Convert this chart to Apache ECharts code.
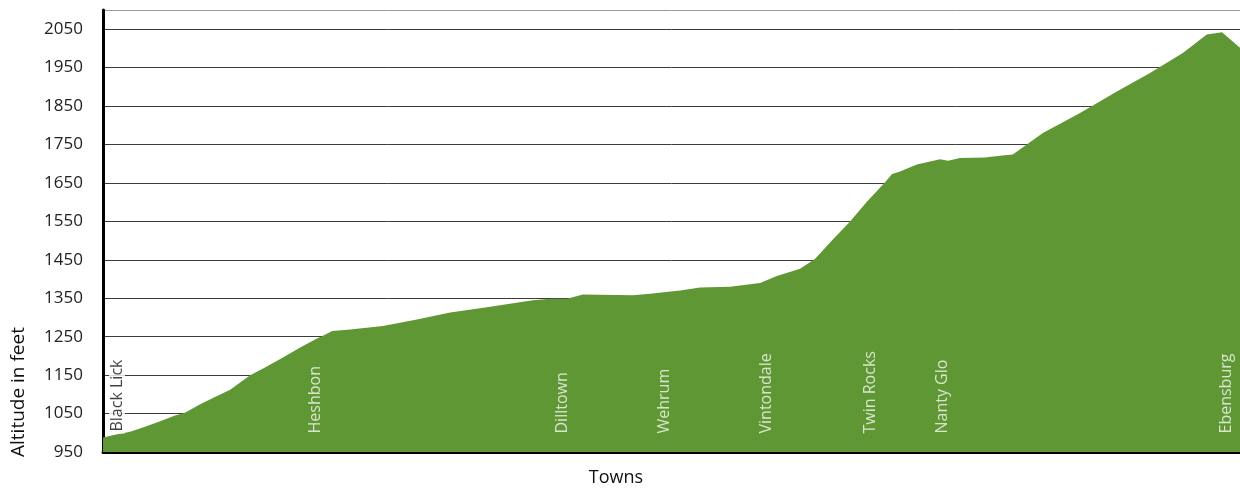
<!DOCTYPE html>
<html>
<head>
<meta charset="utf-8">
<script src="https://cdn.jsdelivr.net/npm/echarts@6/dist/echarts.min.js"></script>
<style>
html,body{margin:0;padding:0;background:#fff;}
#chart{width:1240px;height:490px;}
</style>
</head>
<body>
<div id="chart"></div>
<script>
// Distance along the route (miles, estimated) and altitude (feet)
var distance = [0, 0.3, 0.68, 1.05, 1.43, 1.8, 2.05, 2.43, 2.8, 3.18, 3.68, 4.05, 4.5, 4.93, 5.35, 5.55, 5.73,
  6.18, 7.0, 7.85, 8.68, 9.43, 9.93, 10.75, 11.18, 11.6, 12.0, 13.25, 13.68, 14.43, 14.93, 15.68, 16.43,
  16.85, 17.43, 17.8, 18.25, 18.68, 19.1, 19.55, 19.73, 19.93, 20.35, 20.93, 21.13, 21.43, 22.05, 22.43,
  22.75, 23.5, 24.43, 25.35, 26.18, 27.0, 27.6, 27.98, 28.43];
var altitude = [988, 995, 1003, 1016, 1030, 1045, 1052, 1074, 1093, 1112, 1150, 1170, 1196, 1222, 1245, 1255, 1265,
  1269, 1278, 1295, 1313, 1324, 1332, 1345, 1349, 1349, 1360, 1358, 1362, 1370, 1378, 1380, 1390,
  1408, 1427, 1452, 1503, 1550, 1601, 1651, 1673, 1680, 1698, 1712, 1708, 1715, 1716, 1721,
  1724, 1780, 1832, 1888, 1936, 1988, 2036, 2042, 2002];
var townNames = ['Black Lick', 'Heshbon', 'Dilltown', 'Wehrum', 'Vintondale', 'Twin Rocks', 'Nanty Glo', 'Ebensburg'];
var townMiles = [0.35, 5.3, 11.5, 14.05, 16.6, 19.2, 21.0, 28.08];
var yTicks = [950, 1050, 1150, 1250, 1350, 1450, 1550, 1650, 1750, 1850, 1950, 2050];

var profile = distance.map(function (d, i) { return [d, altitude[i]]; });
var towns = townNames.map(function (n, i) {
  var item = { name: n, value: [townMiles[i], yTicks[0]] };
  if (i === 0) {
    item.label = { color: '#111', backgroundColor: '#fff', padding: [0, 2, 0, 2] };
  }
  return item;
});
var gridColors = yTicks.map(function () { return '#3c3c3c'; }).concat(['#9a9a9a']);

var chart = echarts.init(document.getElementById('chart'));
var FONT = '"Open Sans", "Noto Sans", sans-serif';
chart.setOption({
  animation: false,
  grid: { left: 103, right: 0, top: 10, bottom: 38, containLabel: false },
  xAxis: {
    type: 'value', min: 0, max: 28.43,
    axisLine: { show: true, onZero: false, lineStyle: { color: '#000', width: 3 } },
    axisTick: { show: false }, axisLabel: { show: false }, splitLine: { show: false }
  },
  yAxis: {
    type: 'value', min: 950, max: 2100, interval: 100,
    axisLine: { show: true, lineStyle: { color: '#000', width: 3 } },
    axisTick: { show: false },
    axisLabel: {
      margin: 20, color: '#222', fontSize: 17, fontFamily: FONT,
      formatter: function (v) { return yTicks.indexOf(v) >= 0 ? String(v) : ''; }
    },
    splitLine: { show: true, lineStyle: { color: gridColors, width: 1 } }
  },
  series: [
    {
      type: 'line', data: profile, symbol: 'none', smooth: false,
      lineStyle: { width: 0 },
      areaStyle: { color: '#5f9734', opacity: 1, origin: 'start' },
      z: 2
    },
    {
      type: 'scatter', data: towns, symbolSize: 1, silent: true,
      itemStyle: { color: 'rgba(0,0,0,0)' },
      label: {
        show: true, formatter: '{b}', position: 'top', distance: 18, rotate: 90,
        align: 'left', verticalAlign: 'middle',
        color: '#f6f9f2', fontSize: 16, fontFamily: FONT
      },
      z: 5
    }
  ],
  graphic: [
    {
      type: 'text', x: 19, y: 392, rotation: Math.PI / 2,
      style: { text: 'Altitude in feet', fill: '#111', font: '19px ' + FONT, textAlign: 'center', textVerticalAlign: 'middle' }
    },
    {
      type: 'text', x: 616, y: 478,
      style: { text: 'Towns', fill: '#111', font: '18px ' + FONT, textAlign: 'center', textVerticalAlign: 'middle' }
    }
  ]
});
</script>
</body>
</html>
